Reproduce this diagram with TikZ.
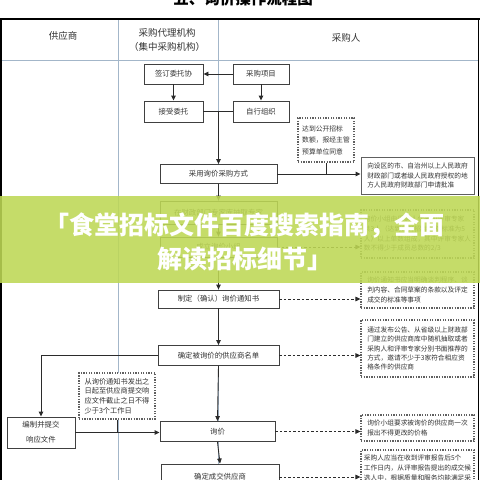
\documentclass[tikz,border=0pt]{standalone}
\usepackage{fontspec}
\setmainfont{Noto Sans CJK SC}
\usetikzlibrary{arrows.meta}
\definecolor{lnc}{HTML}{2B2B2B}
\definecolor{txc}{HTML}{333333}
\definecolor{colc}{HTML}{A3B6C9}
\definecolor{banc}{RGB}{190,216,85}
\begin{document}
\begin{tikzpicture}[x=1pt,y=-1pt,
  box/.style={draw=lnc!90, line width=0.9pt, fill=white, inner sep=0pt, text=txc, font=\fontsize{7.4}{9}\selectfont, align=center},
  note/.style={draw=lnc!75, line width=1.1pt, dash pattern=on 1.3pt off 1.3pt, fill=white, inner sep=0pt, text=txc, align=left},
  sbox/.style={draw=lnc!75, line width=0.9pt, fill=white, inner sep=0pt, text=txc, align=left},
  rtxt/.style={font=\fontsize{6.7}{9.6}\selectfont},
  arr/.style={draw=lnc, line width=0.9pt, -{Triangle[length=5pt,width=4.5pt]}},
  darr/.style={arr, dash pattern=on 2.5pt off 2pt},
  conn/.style={draw=lnc, line width=0.9pt},
  hdr/.style={text=txc, font=\fontsize{9.5}{14}\selectfont, align=center, inner sep=0pt},
]
\useasboundingbox (0,0) rectangle (480,480);
\clip (0,0) rectangle (480,480);
\fill[white] (0,0) rectangle (480,480);

% title
\node[font=\bfseries\fontsize{15.5}{15.5}\selectfont, text=black] (title) at (243,-1) {五、询价操作流程图};

% table
\draw[colc, line width=0.7pt] (1,60) -- (478,60);
\draw[colc, line width=0.7pt] (118,19) -- (118,490);
\draw[colc, line width=0.7pt] (218,19) -- (218,490);
\draw[black, line width=1.3pt] (1,490) -- (1,19) -- (480,19);
\draw[black, line width=1.3pt] (478.5,19) -- (478.5,490);

\node[hdr] (h1) at (63,36) {供应商};
\node[hdr] (h2) at (167,40) {采购代理机构\\（集中采购机构）};
\node[hdr] (h3) at (346,38) {采购人};

% boxes
\node[box, minimum width=59pt, minimum height=20pt] (qd) at (173.5,74) {签订委托协};
\node[box, minimum width=56pt, minimum height=20pt] (cgxm) at (261,74) {采购项目};
\node[box, minimum width=59pt, minimum height=21pt] (js) at (173.5,111.5) {接受委托};
\node[box, minimum width=56pt, minimum height=21pt] (zx) at (261,111.5) {自行组织};
\node[box, minimum width=117pt, minimum height=19pt] (cy) at (218.5,174) {采用询价采购方式};
\node[note, font=\fontsize{6.8}{11.5}\selectfont, minimum width=56pt, minimum height=44pt] (dot1) at (326,140) {达到公开招标\\数额，报经主管\\预算单位同意};
\node[sbox, rtxt, minimum width=113pt, minimum height=37pt] (rb1) at (417.5,175.5) {向设区的市、自治州以上人民政府\\财政部门或者级人民政府授权的地\\方人民政府财政部门申请批准};

\node[box, minimum width=117pt, minimum height=23pt] (zj) at (218.5,212.5) {在财政部门专家库抽取专家};
\node[box, minimum width=117pt, minimum height=20pt] (zl) at (218.5,247) {成立询价小组};
\node[note, rtxt, minimum width=113pt, minimum height=48pt] (rb2) at (417.5,234) {询价小组由采购人代表和评审专家\\共3人（达到公开招标数额标准为5\\人）以上单数组成，其中评审专家人\\数不得少于成员总数的2/3};

\node[box, minimum width=121pt, minimum height=18pt] (zd) at (218.5,299) {制定（确认）询价通知书};
\node[note, rtxt, minimum width=113pt, minimum height=36pt] (rb3) at (417.5,290) {询价通知书应当明确谈判程序、谈\\判内容、合同草案的条款以及评定\\成交的标准等事项};

\node[box, minimum width=121pt, minimum height=20pt] (qdb) at (218.5,355.5) {确定被询价的供应商名单};
\node[note, rtxt, font=\fontsize{6.7}{9.3}\selectfont, minimum width=113pt, minimum height=57pt] (rb4) at (417.5,348.5) {通过发布公告、从省级以上财政部\\门建立的供应商库中随机抽取或者\\采购人和评审专家分别书面推荐的\\方式，邀请不少于3家符合相应资\\格条件的供应商};

\node[box, minimum width=68pt, minimum height=31pt, font=\fontsize{7.4}{15}\selectfont] (bz) at (41,432.5) {编制并提交\\响应文件};
\node[note, font=\fontsize{7.2}{9.6}\selectfont, minimum width=76pt, minimum height=46pt] (dot2) at (117,396) {从询价通知书发出之\\日起至供应商提交响\\应文件截止之日不得\\少于3个工作日};

\node[box, minimum width=115pt, minimum height=20pt] (xj) at (217.5,431.5) {询价};
\node[note, rtxt, minimum width=113pt, minimum height=26pt] (rb5) at (417.5,428) {询价小组要求被询价的供应商一次\\报出不得更改的价格};

\node[box, minimum width=118pt, minimum height=26pt] (qdc) at (220,477) {确定成交供应商};
\node[note, rtxt, minimum width=113pt, minimum height=36pt] (rb6) at (417.5,468) {采购人应当在收到评审报告后5个\\工作日内，从评审报告提出的成交候\\选人中，根据质量和服务均能满足采};

% connectors
\draw[arr] (cgxm.west) -- (qd.east);
\draw[arr] (qd.south) -- (js.north);
\draw[arr] (cgxm.south) -- (zx.north);
\coordinate (j) at (cy.north |- js.east);
\draw[conn] (js.east) -- (zx.west);
\draw[arr] (j) -- (cy.north);
\draw[arr] (cy.east) -- (cy.east -| rb1.west);
\draw[conn] (dot1.south) -- (dot1.south |- cy.east);
\draw[arr] (cy.south) -- (zj.north);
\draw[arr] (zj.south) -- (zl.north);
\draw[darr] (zl.east) -- (zl.east -| rb2.west);
\draw[arr] (zl.south) -- (zd.north);
\draw[darr] (zd.east) -- (zd.east -| rb3.west);
\draw[arr] (zd.south) -- (qdb.north);
\draw[darr] (qdb.east) -- (qdb.east -| rb4.west);
\draw[arr] (qdb.west) -| (bz.north);
\draw[arr] (qdb.south) -- (xj.north);
\draw[arr] (bz.east) -- (bz.east -| xj.west);
\draw[conn] (dot2.south) -- (dot2.south |- bz.east);
\draw[darr] (xj.east) -- (xj.east -| rb5.west);
\draw[arr] (xj.south) -- (qdc.north);
\draw[darr] (qdc.east) -- (qdc.east -| rb6.west);

% banner
\fill[banc, opacity=0.88] (0,196) rectangle (480,283);
\node[text=white, font=\bfseries\fontsize{25}{34}\selectfont, align=center, inner sep=0pt] (bt) at (245,242) {「食堂招标文件百度搜索指南，全面\\解读招标细节」};
\end{tikzpicture}
\end{document}
